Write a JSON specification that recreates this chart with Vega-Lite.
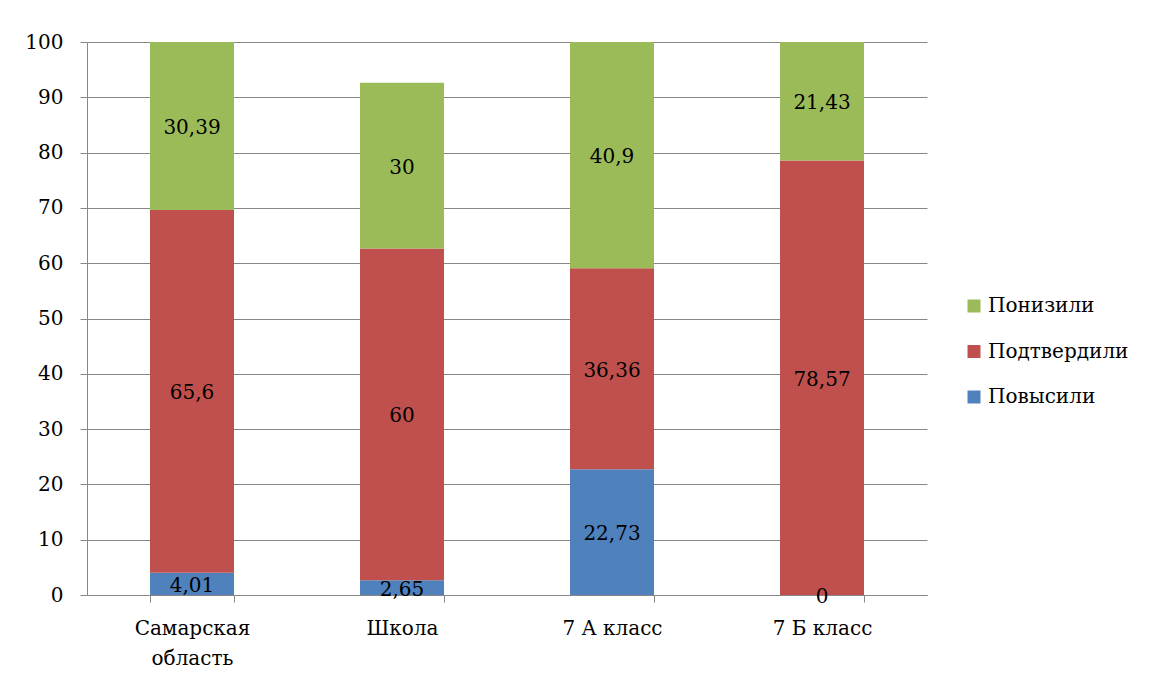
{
  "$schema": "https://vega.github.io/schema/vega-lite/v6.json",
  "width": 840,
  "height": 553,
  "autosize": {"type": "none"},
  "padding": {"left": 87, "top": 42, "right": 225, "bottom": 86},
  "background": "white",
  "config": {
    "view": {"stroke": null},
    "font": "DejaVu Serif",
    "axis": {
      "labelFont": "DejaVu Serif",
      "labelFontSize": 20,
      "labelColor": "black",
      "domainColor": "#878787",
      "tickColor": "#878787",
      "gridColor": "#878787",
      "tickSize": 7,
      "title": null
    },
    "legend": {
      "labelFont": "DejaVu Serif",
      "labelFontSize": 20,
      "labelColor": "black"
    }
  },
  "data": {
    "values": [
      {"cat": "Самарская область", "series": "Повысили", "ord": 1, "value": 4.01},
      {"cat": "Самарская область", "series": "Подтвердили", "ord": 2, "value": 65.6},
      {"cat": "Самарская область", "series": "Понизили", "ord": 3, "value": 30.39},
      {"cat": "Школа", "series": "Повысили", "ord": 1, "value": 2.65},
      {"cat": "Школа", "series": "Подтвердили", "ord": 2, "value": 60},
      {"cat": "Школа", "series": "Понизили", "ord": 3, "value": 30},
      {"cat": "7 А класс", "series": "Повысили", "ord": 1, "value": 22.73},
      {"cat": "7 А класс", "series": "Подтвердили", "ord": 2, "value": 36.36},
      {"cat": "7 А класс", "series": "Понизили", "ord": 3, "value": 40.9},
      {"cat": "7 Б класс", "series": "Повысили", "ord": 1, "value": 0},
      {"cat": "7 Б класс", "series": "Подтвердили", "ord": 2, "value": 78.57},
      {"cat": "7 Б класс", "series": "Понизили", "ord": 3, "value": 21.43}
    ]
  },
  "transform": [
    {"stack": "value", "groupby": ["cat"], "sort": [{"field": "ord"}], "as": ["v0", "v1"]},
    {"calculate": "(datum.v0 + datum.v1) / 2", "as": "mid"},
    {"calculate": "replace(toString(datum.value), '.', ',')", "as": "label"}
  ],
  "encoding": {
    "x": {
      "field": "cat",
      "type": "nominal",
      "sort": ["Самарская область", "Школа", "7 А класс", "7 Б класс"],
      "scale": {"paddingInner": 0.6, "paddingOuter": 0.3},
      "axis": {
        "labelAngle": 0,
        "tickBand": "extent",
        "labelPadding": 26,
        "labelLineHeight": 30,
        "labelBaseline": "middle",
        "labelExpr": "datum.label == 'Самарская область' ? ['Самарская', 'область'] : datum.label"
      }
    }
  },
  "layer": [
    {
      "mark": {"type": "bar"},
      "encoding": {
        "y": {
          "field": "v0",
          "type": "quantitative",
          "scale": {"domain": [0, 100], "nice": false},
          "axis": {"values": [0,10,20,30,40,50,60,70,80,90,100], "grid": true, "labelPadding": 17, "tickSize": 7}
        },
        "y2": {"field": "v1"},
        "color": {
          "field": "series",
          "type": "nominal",
          "scale": {"domain": ["Понизили", "Подтвердили", "Повысили"], "range": ["#9BBB59", "#C0504D", "#4F81BD"]},
          "legend": {
            "title": null,
            "orient": "none",
            "legendX": 877,
            "legendY": 254,
            "symbolType": "square",
            "symbolSize": 169,
            "symbolStrokeWidth": 0,
            "symbolOpacity": 1,
            "labelOffset": 4,
            "rowPadding": 25.5
          }
        }
      }
    },
    {
      "mark": {"type": "text", "font": "DejaVu Serif", "fontSize": 20, "color": "black", "baseline": "middle", "dy": 2},
      "encoding": {
        "y": {"field": "mid", "type": "quantitative"},
        "text": {"field": "label"}
      }
    }
  ]
}
